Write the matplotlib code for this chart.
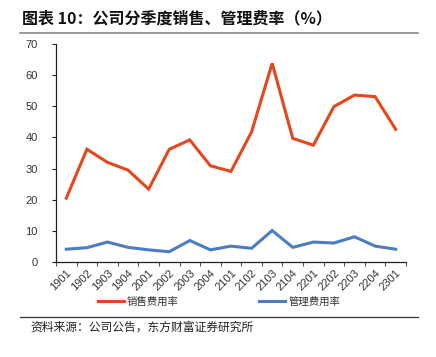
import matplotlib
matplotlib.use("Agg")
import matplotlib.pyplot as plt
from matplotlib.lines import Line2D
import numpy as np

plt.rcParams['font.family'] = ['Noto Sans CJK SC', 'DejaVu Sans']

categories = ['1901', '1902', '1903', '1904', '2001', '2002', '2003', '2004',
              '2101', '2102', '2103', '2104', '2201', '2202', '2203', '2204', '2301']
sales_rate = [20.5, 36.2, 32.0, 29.5, 23.4, 36.2, 39.2, 30.9,
              29.1, 41.8, 63.8, 39.7, 37.5, 49.9, 53.6, 53.1, 42.6]
admin_rate = [4.1, 4.6, 6.4, 4.7, 3.9, 3.3, 6.9, 3.9,
              5.1, 4.4, 10.1, 4.7, 6.4, 6.1, 8.1, 5.1, 4.1]
yticks = [0, 10, 20, 30, 40, 50, 60, 70]
title = '图表 10：公司分季度销售、管理费率（%）'
source = '资料来源：公司公告，东方财富证券研究所'
series_names = ['销售费用率', '管理费用率']

RED = '#E5471D'
BLUE = '#4A7DC4'
W, H = 436, 357
fig = plt.figure(figsize=(W / 100, H / 100), dpi=100)
ax = fig.add_axes([56 / W, (H - 262) / H, 350 / W, 218 / H])

x = np.arange(len(categories))
ax.plot(x, sales_rate, color=RED, lw=2.2, solid_joinstyle='miter')
ax.plot(x, admin_rate, color=BLUE, lw=2.2, solid_joinstyle='miter')

ax.set_xlim(-0.5, len(categories) - 0.5)
ax.set_ylim(0, 70)
ax.set_yticks(yticks)
ax.set_yticklabels([str(v) for v in yticks], fontsize=8, color='#333333',
                   family=['Liberation Sans', 'DejaVu Sans'])
ax.set_xticks(x)
ax.set_xticklabels(categories, rotation=45, ha='right', rotation_mode='anchor',
                   fontsize=8, color='#333333', family=['Liberation Sans', 'DejaVu Sans'])
ax.tick_params(axis='x', which='major', length=0, pad=4)
ax.set_xticks(np.arange(-0.5, len(categories)), minor=True)
ax.tick_params(axis='x', which='minor', length=3, width=0.8, color='#555555', direction='out')
ax.tick_params(axis='y', length=3, width=0.8, color='#222222', pad=10)
for s in ['top', 'right']:
    ax.spines[s].set_visible(False)
ax.spines['left'].set_color('#222222')
ax.spines['bottom'].set_color('#222222')
ax.spines['left'].set_linewidth(0.9)
ax.spines['bottom'].set_linewidth(0.9)

handles = [Line2D([], [], color=RED, lw=2.2), Line2D([], [], color=BLUE, lw=2.2)]
fig.legend(handles, series_names, loc='center', bbox_to_anchor=(219 / W, (H - 302) / H),
           ncol=2, frameon=False, fontsize=7.5, handlelength=2.5, handletextpad=0.3,
           columnspacing=7.7, labelcolor='#333333')

fig.text(22 / W, (H - 18) / H, title, fontsize=11.5, fontweight='bold', va='center',
         ha='left', color='#111111')
fig.add_artist(Line2D([20 / W, 418 / W], [(H - 33) / H] * 2, color='#888888', lw=1.2))
fig.add_artist(Line2D([20 / W, 418 / W], [(H - 317) / H] * 2, color='#333333', lw=0.9))
fig.text(30 / W, (H - 327) / H, source, fontsize=8.5, va='center', ha='left', color='#222222')

fig.savefig('out.png', dpi=100)
